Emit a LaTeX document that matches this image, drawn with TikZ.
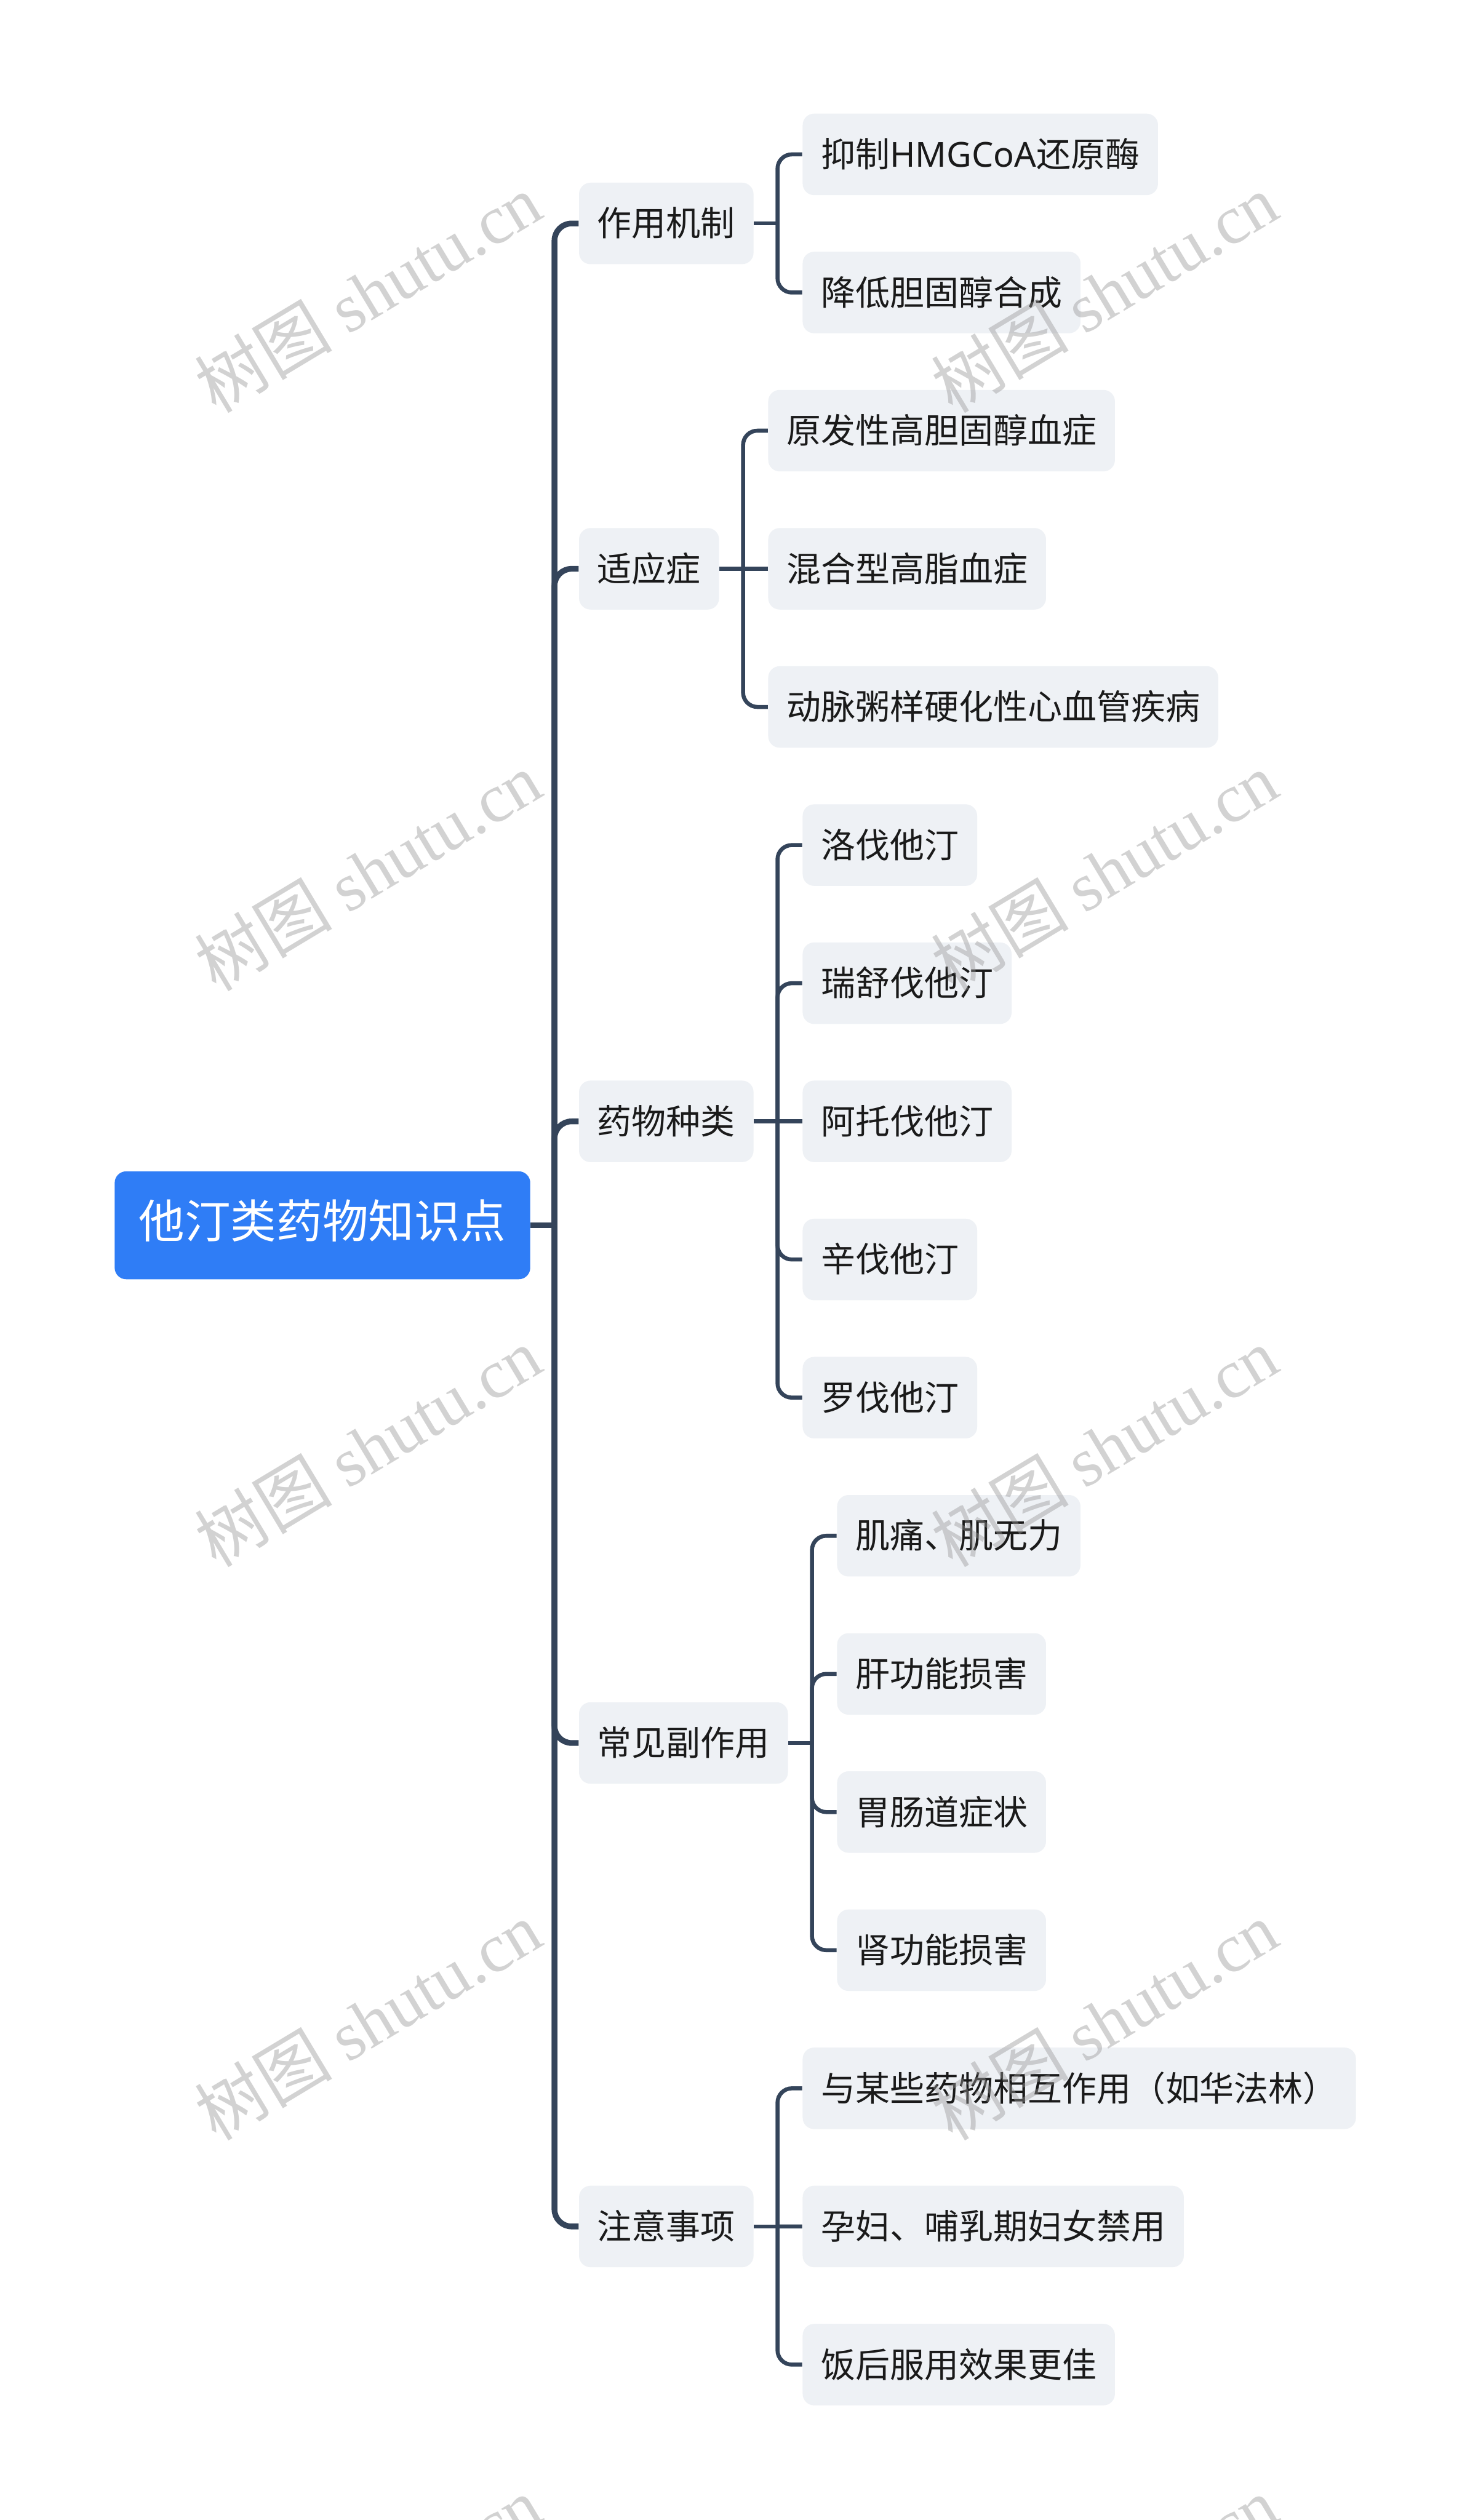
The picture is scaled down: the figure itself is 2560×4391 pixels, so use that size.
\documentclass[tikz,border=0pt]{standalone}
\usepackage{fontspec}
\setmainfont{Noto Sans CJK SC}
\newfontfamily\wmlat{Liberation Serif}
\newfontfamily\latinsans{Noto Sans}
\usetikzlibrary{calc}
\definecolor{rootblue}{RGB}{47,125,246}
\definecolor{nodegray}{RGB}{238,241,245}
\definecolor{linecol}{RGB}{52,68,90}
\definecolor{textdark}{RGB}{26,26,26}
\definecolor{wmgray}{RGB}{150,150,150}
\tikzset{
  rootbox/.style={fill=rootblue, rounded corners=5pt, text=white,
    font=\fontsize{20pt}{24pt}\selectfont, inner xsep=10.5pt, inner ysep=0pt,
    minimum height=47pt, text height=1.2em, text depth=0.09em, anchor=west},
  topic/.style={fill=nodegray, rounded corners=5pt, text=textdark,
    font=\fontsize{15pt}{18pt}\selectfont, inner xsep=8pt, inner ysep=0pt,
    minimum height=35.5pt, text height=1.2em, text depth=0.09em, anchor=west},
  mainline/.style={draw=linecol, line width=2.5pt, rounded corners=7.5pt},
  subline/.style={draw=linecol, line width=1.75pt, rounded corners=6.25pt},
  wm/.style={text=wmgray, opacity=0.42, rotate=31,
    font=\fontsize{30pt}{36pt}\selectfont, inner sep=0pt}
}
\begin{document}
\begin{tikzpicture}[x=0.25pt,y=-0.25pt]
\path[use as bounding box] (0,0) rectangle (2560,4391);
\clip (0,0) rectangle (2560,4391);
\fill[white] (0,0) rectangle (2560,4391);
% row positions
\foreach \k in {0,...,16}{
  \coordinate (r\k) at (0,{269+240.7*\k});
}
% root
\node[rootbox] (root) at (199,2135) {他汀类药物知识点};
\coordinate (J0) at (966,2135);
% level 1
\node[topic] (n1) at (1008,389.35) {作用机制};
\node[topic] (n2) at (1008,991.1) {适应症};
\node[topic] (n3) at (1008,1953.9) {药物种类};
\node[topic] (n4) at (1008,3037.05) {常见副作用};
\node[topic] (n5) at (1008,3879.5) {注意事项};
\coordinate (j1) at ($(n1.east)+(41,0)$);
\coordinate (j2) at ($(n2.east)+(41,0)$);
\coordinate (j3) at ($(n3.east)+(41,0)$);
\coordinate (j4) at ($(n4.east)+(41,0)$);
\coordinate (j5) at ($(n5.east)+(41,0)$);
% level 2
\node[topic] (a1) at ($(j1|-r0)+(43,0)$) {抑制{\latinsans HMGCoA}还原酶};
\node[topic] (a2) at ($(j1|-r1)+(43,0)$) {降低胆固醇合成};
\node[topic] (b1) at ($(j2|-r2)+(43,0)$) {原发性高胆固醇血症};
\node[topic] (b2) at ($(j2|-r3)+(43,0)$) {混合型高脂血症};
\node[topic] (b3) at ($(j2|-r4)+(43,0)$) {动脉粥样硬化性心血管疾病};
\node[topic] (c1) at ($(j3|-r5)+(43,0)$) {洛伐他汀};
\node[topic] (c2) at ($(j3|-r6)+(43,0)$) {瑞舒伐他汀};
\node[topic] (c3) at ($(j3|-r7)+(43,0)$) {阿托伐他汀};
\node[topic] (c4) at ($(j3|-r8)+(43,0)$) {辛伐他汀};
\node[topic] (c5) at ($(j3|-r9)+(43,0)$) {罗伐他汀};
\node[topic] (d1) at ($(j4|-r10)+(43,0)$) {肌痛、肌无力};
\node[topic] (d2) at ($(j4|-r11)+(43,0)$) {肝功能损害};
\node[topic] (d3) at ($(j4|-r12)+(43,0)$) {胃肠道症状};
\node[topic] (d4) at ($(j4|-r13)+(43,0)$) {肾功能损害};
\node[topic] (e1) at ($(j5|-r14)+(43,0)$) {与某些药物相互作用（如华法林）};
\node[topic] (e2) at ($(j5|-r15)+(43,0)$) {孕妇、哺乳期妇女禁用};
\node[topic] (e3) at ($(j5|-r16)+(43,0)$) {饭后服用效果更佳};
% main connectors
\draw[mainline] (root.east) -- (J0);
\foreach \n in {n1,n2,n3,n4,n5}{
  \draw[mainline] (J0) |- (\n.west);
}
% sub connectors
\draw[subline] (n1.east) -- (j1);
\draw[subline] (j1) |- (a1.west);
\draw[subline] (j1) |- (a2.west);
\draw[subline] (n2.east) -- (j2);
\draw[subline] (j2) |- (b1.west);
\draw[subline] (j2) -- (b2.west);
\draw[subline] (j2) |- (b3.west);
\draw[subline] (n3.east) -- (j3);
\draw[subline] (j3) |- (c1.west);
\draw[subline] (j3) |- (c2.west);
\draw[subline] (j3) -- (c3.west);
\draw[subline] (j3) |- (c4.west);
\draw[subline] (j3) |- (c5.west);
\draw[subline] (n4.east) -- (j4);
\draw[subline] (j4) |- (d1.west);
\draw[subline] (j4) |- (d2.west);
\draw[subline] (j4) |- (d3.west);
\draw[subline] (j4) |- (d4.west);
\draw[subline] (n5.east) -- (j5);
\draw[subline] (j5) |- (e1.west);
\draw[subline] (j5) -- (e2.west);
\draw[subline] (j5) |- (e3.west);
% watermarks
\foreach \wx in {641,1924}{
  \foreach \wy in {510,1518,2521,3521,4523}{
    \node[wm] (wm-\wx-\wy) at (\wx,\wy) {树图 {\wmlat shutu.cn}};
  }
}
\end{tikzpicture}
\end{document}
